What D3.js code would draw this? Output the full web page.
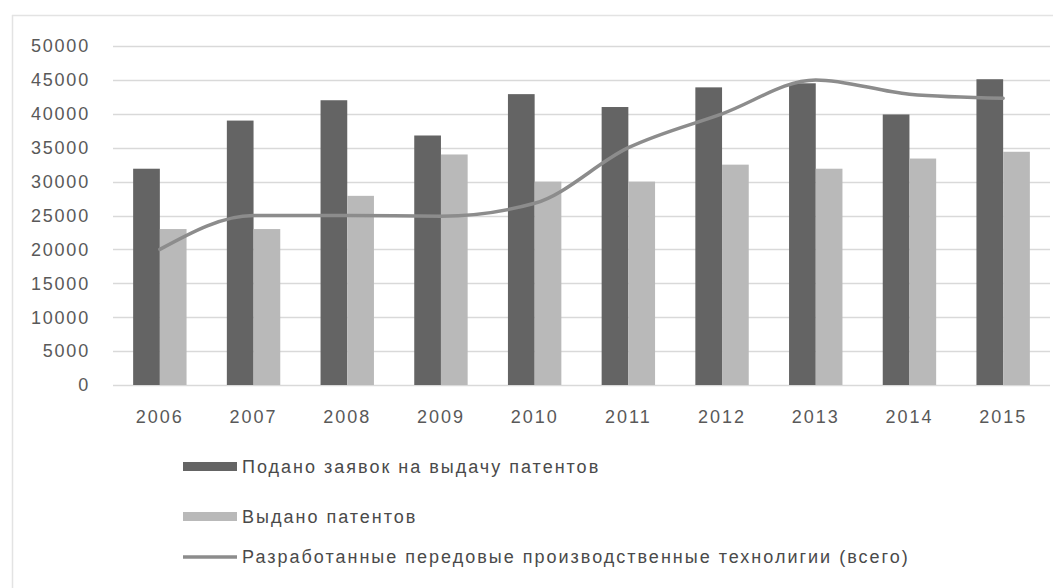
<!DOCTYPE html>
<html>
<head>
<meta charset="utf-8">
<script src="https://cdn.jsdelivr.net/npm/d3@7"></script>
<style>
  body { margin: 0; background: #fff; }
  text { font-family: "Liberation Sans", Arial, sans-serif; }
</style>
</head>
<body>
<svg width="1063" height="588"></svg>
<script>
const years = ["2006", "2007", "2008", "2009", "2010", "2011", "2012", "2013", "2014", "2015"];
const applications = [31900, 39000, 42000, 36800, 42900, 41000, 43900, 44500, 39900, 45100];
const granted = [23000, 23000, 27900, 34000, 30000, 30000, 32500, 31900, 33400, 34400];
const technologies = [20000, 25000, 25000, 24900, 26800, 35000, 40000, 45000, 42900, 42300];
const yTicks = [0, 5000, 10000, 15000, 20000, 25000, 30000, 35000, 40000, 45000, 50000];
const seriesNames = [
  "Подано заявок на выдачу патентов",
  "Выдано патентов",
  "Разработанные передовые производственные технолигии (всего)"
];

const svg = d3.select("svg");

// chart frame (only top and left edges show)
svg.append("line").attr("x1", 12).attr("x2", 1053).attr("y1", 15.5).attr("y2", 15.5)
  .attr("stroke", "#e3e3e3").attr("stroke-width", 1.5);
svg.append("line").attr("x1", 12.5).attr("x2", 12.5).attr("y1", 15).attr("y2", 588)
  .attr("stroke", "#e3e3e3").attr("stroke-width", 1.5);

const x = d3.scaleBand().domain(years).range([113, 1050]).paddingInner(0.43).paddingOuter(0.215);
const x1 = d3.scaleBand().domain(["a", "b"]).range([0, x.bandwidth()]);
const y = d3.scaleLinear().domain([0, 50000]).range([385, 46]);

// gridlines
svg.append("g")
  .selectAll("line")
  .data(yTicks)
  .enter()
  .append("line")
  .attr("x1", 113)
  .attr("x2", 1050)
  .attr("y1", d => Math.round(y(d)) + 0.5)
  .attr("y2", d => Math.round(y(d)) + 0.5)
  .attr("stroke", "#d9d9d9")
  .attr("stroke-width", 1.5);

// y axis labels
svg.append("g")
  .selectAll("text")
  .data(yTicks)
  .enter()
  .append("text")
  .attr("x", 90)
  .attr("y", d => y(d))
  .attr("dy", "0.35em")
  .attr("text-anchor", "end")
  .attr("fill", "#595959")
  .style("font-size", "18px")
  .style("letter-spacing", "1.8px")
  .text(d => d);

// x axis labels
svg.append("g")
  .selectAll("text")
  .data(years)
  .enter()
  .append("text")
  .attr("x", d => x(d) + x.bandwidth() / 2)
  .attr("y", 417)
  .attr("dy", "0.35em")
  .attr("text-anchor", "middle")
  .attr("fill", "#595959")
  .style("font-size", "18px")
  .style("letter-spacing", "2px")
  .text(d => d);

// bars
const barData = years.map((yr, i) => ({ yr, a: applications[i], b: granted[i] }));

svg.append("g")
  .selectAll("rect")
  .data(barData)
  .enter()
  .append("rect")
  .attr("x", d => x(d.yr) + x1("a"))
  .attr("y", d => y(d.a))
  .attr("width", x1.bandwidth())
  .attr("height", d => y(0) - y(d.a))
  .attr("fill", "#646464");

svg.append("g")
  .selectAll("rect")
  .data(barData)
  .enter()
  .append("rect")
  .attr("x", d => x(d.yr) + x1("b"))
  .attr("y", d => y(d.b))
  .attr("width", x1.bandwidth())
  .attr("height", d => y(0) - y(d.b))
  .attr("fill", "#b9b9b9");

// line
const line = d3.line()
  .x((d, i) => x(years[i]) + x.bandwidth() / 2)
  .y(d => y(d))
  .curve(d3.curveMonotoneX);

svg.append("path")
  .datum(technologies)
  .attr("d", line)
  .attr("fill", "none")
  .attr("stroke", "#8c8c8c")
  .attr("stroke-width", 3.5)
  .attr("stroke-linecap", "round");

// legend
const legendY = [467, 517, 557];
const legend = svg.append("g");

legend.append("rect").attr("x", 183).attr("y", legendY[0] - 5).attr("width", 54).attr("height", 9).attr("fill", "#646464");
legend.append("rect").attr("x", 183).attr("y", legendY[1] - 5).attr("width", 54).attr("height", 9).attr("fill", "#b9b9b9");
legend.append("line").attr("x1", 183).attr("x2", 237).attr("y1", legendY[2]).attr("y2", legendY[2])
  .attr("stroke", "#8c8c8c").attr("stroke-width", 3.5);

legend.selectAll("text")
  .data(seriesNames)
  .enter()
  .append("text")
  .attr("x", 242)
  .attr("y", (d, i) => legendY[i])
  .attr("dy", "0.35em")
  .attr("fill", "#4a4a4a")
  .style("font-size", "18px")
  .style("letter-spacing", "2px")
  .text(d => d);
</script>
</body>
</html>
